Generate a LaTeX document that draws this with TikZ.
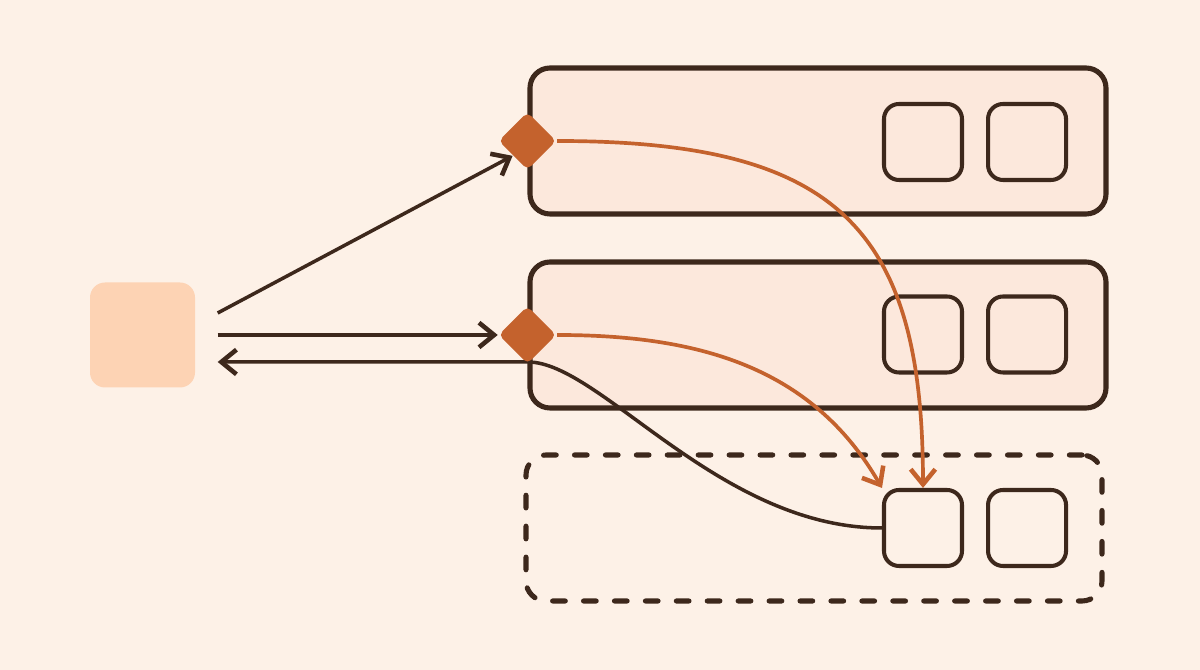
\documentclass[tikz,border=0pt]{standalone}
\usepackage{tikz}
\usetikzlibrary{shapes.geometric,arrows.meta,positioning}
\definecolor{bgpeach}{HTML}{FDF1E7}
\definecolor{boxpeach}{HTML}{FCE8DC}
\definecolor{srcpeach}{HTML}{FDD3B4}
\definecolor{inkbrown}{HTML}{3D281C}
\definecolor{rust}{HTML}{C4622D}

\begin{document}
\begin{tikzpicture}[
  >={Straight Barb[length=4.3pt,width=7pt,line width=1.3pt]},
  src/.style={fill=srcpeach, rounded corners=0.15cm, minimum size=1.05cm, inner sep=0pt},
  host/.style={draw=inkbrown, line width=1.45pt, rounded corners=0.2cm, minimum width=5.76cm, minimum height=1.46cm, inner sep=0pt},
  slot/.style={draw=inkbrown, line width=1.15pt, rounded corners=0.15cm, minimum width=0.78cm, minimum height=0.76cm, inner sep=0pt},
  gate/.style={diamond, fill=rust, inner sep=0pt, minimum size=0.58cm, rounded corners=1.5pt},
  link/.style={draw=inkbrown, line width=1pt},
  flow/.style={draw=rust, line width=1.05pt, ->},
]
\fill[bgpeach] (0,0) rectangle (12,6.7);
\useasboundingbox (0,0) rectangle (12,6.7);

% source and the three hosts
\node[src] (src) at (1.425,3.35) {};
\node[host, fill=boxpeach] (h1) at (8.18,5.29) {};
\node[host, fill=boxpeach] (h2) at (8.18,3.35) {};
\node[host, dash pattern=on 3.6pt off 5.2pt, line cap=round] (h3) at (8.14,1.42) {};

% two slots per host
\node[slot] (a1) at (9.23,5.28) {};
\node[slot, right=0.22cm of a1] (b1) {};
\node[slot] (a2) at (9.23,3.355) {};
\node[slot, right=0.22cm of a2] (b2) {};
\node[slot] (a3) at (9.23,1.42) {};
\node[slot, right=0.22cm of a3] (b3) {};

% requests out, reply back
\coordinate (o1) at ([xshift=0.22cm,yshift=0.22cm]src.east);
\coordinate (o2) at ([xshift=0.22cm]src.east);
\coordinate (o3) at ([xshift=0.22cm,yshift=-0.27cm]src.east);
\coordinate (t3) at (5.28,3.08);
\draw[link,<-] (o3) -- (t3) .. controls +(0.72,0) and +(-1.63,0) .. (a3.west);
\node[gate] (g1) at (h1.west) {};
\node[gate] (g2) at (h2.west) {};
\draw[link,->] (o1) -- (g1.south west);
\draw[link,->] (o2) -- (g2.west);

% moves into the new host
\draw[flow] (g1.east) .. controls +(2.8,0) and +(0,2.6) .. (a3.north);
\draw[flow] (g2.east) to[out=0,in=120] (a3.north west);
\end{tikzpicture}
\end{document}
